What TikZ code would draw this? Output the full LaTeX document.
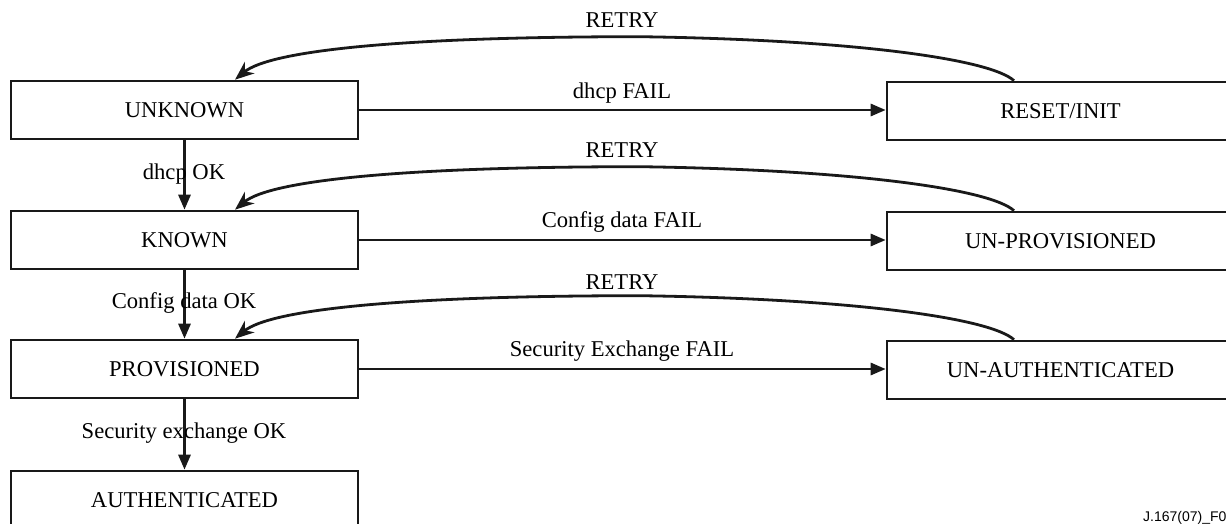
\documentclass[tikz,border=0pt]{standalone}
\usepackage{fontspec}
\setmainfont{Liberation Serif}
\newfontfamily\notefont{Liberation Sans}
\usetikzlibrary{arrows.meta,calc}
\begin{document}
\begin{tikzpicture}[x=1pt,y=-1pt,
  state/.style={draw=black!90,line width=2.6pt,minimum width=347pt,minimum height=58pt,
    inner sep=0pt,font=\fontsize{22.6}{26}\selectfont},
  lbl/.style={inner sep=0pt,font=\fontsize{22.6}{26}\selectfont},
  flow/.style={draw=black!90,line width=2.8pt,-{Triangle[length=15pt,width=12pt]}},
  back/.style={draw=black!90,line width=2.8pt,-{Stealth[length=19pt,width=15pt,inset=6pt]}}]
\useasboundingbox (0,0) rectangle (1226,524);

% state boxes, left column
\node[state] (unk)  at (184.5,110) {UNKNOWN};
\node[state] (kn)   at (184.5,240) {KNOWN};
\node[state] (prov) at (184.5,369) {PROVISIONED};
\node[state] (auth) at (184.5,500) {AUTHENTICATED};

% failure states, right column
\node[state] (rst)   at (1060.5,111) {RESET/INIT};
\node[state] (unprv) at (1060.5,241) {UN-PROVISIONED};
\node[state] (unath) at (1060.5,370) {UN-AUTHENTICATED};

% success transitions
\draw[flow] (unk.south) -- (kn.north);
\draw[flow] (kn.south) -- (prov.north);
\draw[flow] (prov.south) -- (auth.north);
\node[lbl] (l1) at (184,174) {dhcp OK};
\node[lbl] (l2) at (184,303) {Config data OK};
\node[lbl] (l3) at (184,433) {Security exchange OK};

% failure transitions
\draw[flow] (unk.east) -- (unk.east -| rst.west);
\draw[flow] (kn.east) -- (kn.east -| unprv.west);
\draw[flow] (prov.east) -- (prov.east -| unath.west);
\node[lbl] (f1) at (622,93) {dhcp FAIL};
\node[lbl] (f2) at (622,222) {Config data FAIL};
\node[lbl] (f3) at (622,351) {Security Exchange FAIL};

% retry loops: from the top of each failure state back to the top of its source state
\foreach \src/\dst/\k in {rst/unk/1, unprv/kn/2, unath/prov/3}{
  \coordinate (r\k s) at ([xshift=-46.5pt]\src.north);
  \coordinate (r\k e) at ([xshift=50.5pt]\dst.north);
  \coordinate (r\k m) at ($(r\k s)+(-374,-44)$);
  \draw[back] (r\k s) .. controls +(-24,-22) and +(210,3) .. (r\k m)
                      .. controls +(-240,0) and +(35,-29) .. (r\k e);
}
\node[lbl] (t1) at (622,20) {RETRY};
\node[lbl] (t2) at (622,150) {RETRY};
\node[lbl] (t3) at (622,282) {RETRY};

% figure number
\node[anchor=base west,inner sep=0pt,font=\notefont\fontsize{14}{16}\selectfont] (fig) at (1143,521) {J.167(07)\_F01};
\end{tikzpicture}
\end{document}
